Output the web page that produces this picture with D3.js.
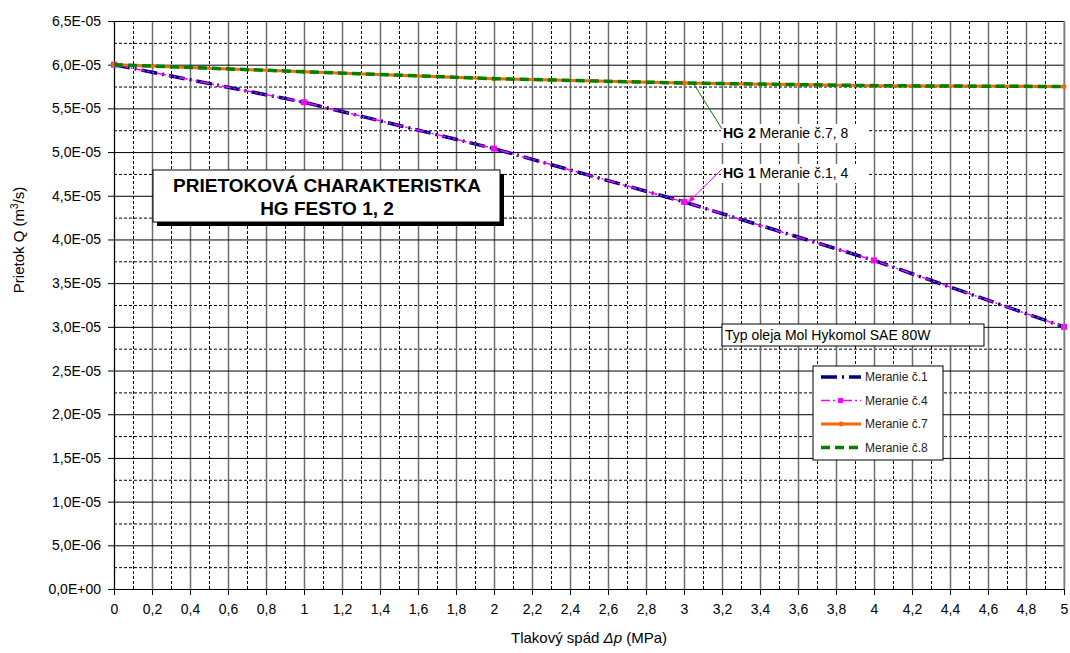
<!DOCTYPE html>
<html>
<head>
<meta charset="utf-8">
<script src="https://cdn.jsdelivr.net/npm/d3@7"></script>
<style>
  body { margin: 0; background: #fff; }
  svg { font-family: "Liberation Sans", Arial, sans-serif; }
</style>
</head>
<body>
<div id="container"></div>
<script>
// pressure drop (MPa) at the measured points
var dp = [0, 1, 2, 3, 4, 5];
// flow (m3/s), HG 1 - measurements 1 and 4
var meranie1 = [6.0e-5, 5.57e-5, 5.04e-5, 4.43e-5, 3.76e-5, 3.0e-5];
var meranie4 = [6.0e-5, 5.57e-5, 5.04e-5, 4.43e-5, 3.76e-5, 3.0e-5];
// HG 2 - measurements 7 and 8
var meranie7 = [6.0e-5, 5.92e-5, 5.84e-5, 5.79e-5, 5.76e-5, 5.75e-5];
var meranie8 = [6.0e-5, 5.92e-5, 5.84e-5, 5.79e-5, 5.76e-5, 5.75e-5];
var seriesNames = ["Meranie č.1", "Meranie č.4", "Meranie č.7", "Meranie č.8"];
var xMajor = d3.range(0, 5.0001, 0.2);
var yMajor = d3.range(0, 6.5001e-5, 0.5e-5);

var W = 1070, H = 653;
var svg = d3.select('#container').append('svg')
  .attr('width', W).attr('height', H);

var x = d3.scaleLinear().domain([0, 5]).range([114, 1064]);
var y = d3.scaleLinear().domain([0, 6.5e-5]).range([589, 21]);

var xMinor = xMajor.slice(0, -1).map(function(v) { return v + 0.1; });
var yMinor = yMajor.slice(0, -1).map(function(v) { return v + 0.25e-5; });

// ---- grid
var grid = svg.append('g');
grid.append('g').attr('transform', 'translate(0,589)')
  .call(d3.axisBottom(x).tickValues(xMinor).tickSize(-568).tickFormat(''))
  .call(function(g) {
    g.select('.domain').remove();
    g.selectAll('line').attr('stroke', '#000').attr('stroke-dasharray', '3,2');
  });
grid.append('g').attr('transform', 'translate(114,0)')
  .call(d3.axisLeft(y).tickValues(yMinor).tickSize(-950).tickFormat(''))
  .call(function(g) {
    g.select('.domain').remove();
    g.selectAll('line').attr('stroke', '#000').attr('stroke-dasharray', '3,2');
  });
grid.append('g').attr('transform', 'translate(0,589)')
  .call(d3.axisBottom(x).tickValues(xMajor).tickSize(-568).tickFormat(''))
  .call(function(g) {
    g.select('.domain').remove();
    g.selectAll('line').attr('stroke', '#6e6e6e').attr('stroke-width', 1.5);
  });
grid.append('g').attr('transform', 'translate(114,0)')
  .call(d3.axisLeft(y).tickValues(yMajor).tickSize(-950).tickFormat(''))
  .call(function(g) {
    g.select('.domain').remove();
    g.selectAll('line').attr('stroke', '#000').attr('stroke-width', 1);
  });

// ---- axes
function fmtY(v) {
  var s = v.toExponential(1).split('e');
  var e = +s[1];
  return s[0].replace('.', ',') + 'E' + (e < 0 ? '-' : '+') + (Math.abs(e) < 10 ? '0' : '') + Math.abs(e);
}
var yAxis = svg.append('g').attr('transform', 'translate(114,0)')
  .call(d3.axisLeft(y).tickValues(yMajor).tickSize(6).tickPadding(7).tickFormat(fmtY));
var xAxis = svg.append('g').attr('transform', 'translate(0,589)')
  .call(d3.axisBottom(x).tickValues(xMajor).tickSize(6).tickPadding(9)
    .tickFormat(function(v) { return d3.format('~g')(+v.toFixed(1)).replace('.', ','); }));
[xAxis, yAxis].forEach(function(a) {
  a.selectAll('text').attr('font-size', 14).attr('fill', '#000')
    .attr('font-family', '"Liberation Sans", Arial, sans-serif');
  a.selectAll('line,path').attr('stroke', '#000');
});

// ---- series
var line = d3.line()
  .x(function(d) { return x(d[0]); })
  .y(function(d) { return y(d[1]); });
function pts(vals) { return dp.map(function(v, i) { return [v, vals[i]]; }); }

var styles = [
  { data: meranie1, color: '#000080', width: 3.5, dash: '16,5,2,5' },
  { data: meranie4, color: '#ff00ff', width: 1.5, dash: '9,3,2,3,2,3', marker: 'square' },
  { data: meranie7, color: '#ff6600', width: 3, dash: null, marker: 'dot' },
  { data: meranie8, color: '#008000', width: 3.5, dash: '9,5' }
];
var plot = svg.append('g');
styles.forEach(function(s) {
  plot.append('path').datum(pts(s.data))
    .attr('d', line).attr('fill', 'none')
    .attr('stroke', s.color).attr('stroke-width', s.width)
    .attr('stroke-dasharray', s.dash);
  if (s.marker === 'square') {
    plot.selectAll(null).data(pts(s.data)).enter().append('rect')
      .attr('x', function(d) { return x(d[0]) - 3; })
      .attr('y', function(d) { return y(d[1]) - 3; })
      .attr('width', 6).attr('height', 6).attr('fill', s.color);
  }
  if (s.marker === 'dot') {
    plot.selectAll(null).data(pts(s.data)).enter().append('circle')
      .attr('cx', function(d) { return x(d[0]); })
      .attr('cy', function(d) { return y(d[1]); })
      .attr('r', 2.5).attr('fill', s.color);
  }
});

// ---- axis titles
svg.append('text').attr('x', 589).attr('y', 643).attr('text-anchor', 'middle')
  .attr('font-size', 15)
  .call(function(t) {
    t.append('tspan').text('Tlakový spád ');
    t.append('tspan').attr('font-style', 'italic').text('Δp');
    t.append('tspan').text(' (MPa)');
  });
svg.append('text').attr('transform', 'translate(24,240) rotate(-90)')
  .attr('text-anchor', 'middle').attr('font-size', 15)
  .call(function(t) {
    t.append('tspan').text('Prietok Q (m');
    t.append('tspan').attr('font-size', 10).attr('dy', -6).text('3');
    t.append('tspan').attr('dy', 6).text('/s)');
  });

// ---- title box
svg.append('rect').attr('x', 157).attr('y', 174).attr('width', 347).attr('height', 52).attr('fill', '#000');
svg.append('rect').attr('x', 153).attr('y', 170).attr('width', 347).attr('height', 52)
  .attr('fill', '#fff').attr('stroke', '#000').attr('stroke-width', 1);
svg.append('text').attr('x', 327).attr('y', 192).attr('text-anchor', 'middle')
  .attr('font-size', 19).attr('font-weight', 'bold').text('PRIETOKOVÁ CHARAKTERISTKA');
svg.append('text').attr('x', 327).attr('y', 215).attr('text-anchor', 'middle')
  .attr('font-size', 19).attr('font-weight', 'bold').text('HG FESTO 1, 2');

// ---- annotations
function note(tx, ty, bold, rest, px, py, color, arrow) {
  svg.append('rect').attr('x', tx - 2).attr('y', ty - 14).attr('width', 146).attr('height', 19).attr('fill', '#fff');
  svg.append('line').attr('x1', tx - 1).attr('y1', ty - 9).attr('x2', px).attr('y2', py)
    .attr('stroke', color).attr('stroke-width', 1);
  if (arrow) {
    var a = Math.atan2(py - (ty - 9), px - (tx - 1));
    var p1 = [px - 8 * Math.cos(a - 0.35), py - 8 * Math.sin(a - 0.35)];
    var p2 = [px - 8 * Math.cos(a + 0.35), py - 8 * Math.sin(a + 0.35)];
    svg.append('path').attr('d', 'M' + px + ',' + py + 'L' + p1 + 'L' + p2 + 'Z').attr('fill', color);
  }
  svg.append('text').attr('x', tx).attr('y', ty).attr('font-size', 14)
    .call(function(t) {
      t.append('tspan').attr('font-weight', 'bold').text(bold);
      t.append('tspan').text(' ' + rest);
    });
}
note(723, 138, 'HG 2', 'Meranie č.7, 8', x(3.05), y(5.785e-5), '#008000', false);
note(723, 178, 'HG 1', 'Meranie č.1, 4', x(3.02), y(4.42e-5), '#ff00ff', true);

// ---- oil type box
svg.append('rect').attr('x', 722).attr('y', 324).attr('width', 262).attr('height', 22)
  .attr('fill', '#fff').attr('stroke', '#000');
svg.append('text').attr('x', 725).attr('y', 340).attr('font-size', 14).text('Typ oleja Mol Hykomol SAE 80W');

// ---- legend
var lg = svg.append('g').attr('transform', 'translate(813,366)');
lg.append('rect').attr('width', 130).attr('height', 94).attr('fill', '#fff').attr('stroke', '#000');
styles.forEach(function(s, i) {
  var yy = 11 + i * 23.5;
  lg.append('line').attr('x1', 8).attr('x2', 48).attr('y1', yy).attr('y2', yy)
    .attr('stroke', s.color).attr('stroke-width', s.width).attr('stroke-dasharray', s.dash);
  if (s.marker === 'square') lg.append('rect').attr('x', 25).attr('y', yy - 2.5).attr('width', 5).attr('height', 5).attr('fill', s.color);
  if (s.marker === 'dot') lg.append('circle').attr('cx', 28).attr('cy', yy).attr('r', 2.5).attr('fill', s.color);
  lg.append('text').attr('x', 52).attr('y', yy + 4).attr('font-size', 12).attr('fill', '#222').text(seriesNames[i]);
});

// right border of plot
svg.append('line').attr('x1', 1064).attr('x2', 1064).attr('y1', 21).attr('y2', 589).attr('stroke', '#888');
</script>
</body>
</html>
